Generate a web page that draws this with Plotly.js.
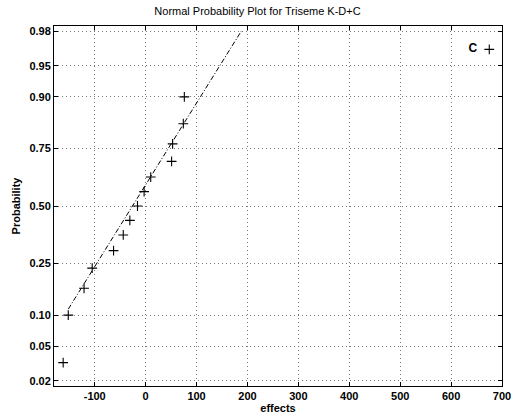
<!DOCTYPE html>
<html>
<head>
<meta charset="utf-8">
<script src="https://cdn.plot.ly/plotly-3.0.1.min.js"></script>
<style>html,body{margin:0;padding:0;background:#fff;}#chart{width:515px;height:416px;}</style>
</head>
<body>
<div id="chart"></div>
<script>
// Data
var effects = [-162, -152, -121, -105, -63, -44, -31, -16, -3, 10, 51, 53, 74, 76, 675];
var probabilities = [0.033, 0.10, 0.167, 0.233, 0.30, 0.367, 0.433, 0.50, 0.567, 0.633, 0.70, 0.767, 0.833, 0.90, 0.967];
var pointLabel = "C";
var fitX = [-152, 188];
var fitP = [0.113, 0.98];
var probTicks = [0.02, 0.05, 0.10, 0.25, 0.50, 0.75, 0.90, 0.95, 0.98];
var probTickText = ["0.02", "0.05", "0.10", "0.25", "0.50", "0.75", "0.90", "0.95", "0.98"];
var xTicks = [-100, 0, 100, 200, 300, 400, 500, 600, 700];

// inverse normal CDF (Acklam) -> normal probability scale
function norminv(p) {
  var a = [-3.969683028665376e+01, 2.209460984245205e+02, -2.759285104469687e+02, 1.383577518672690e+02, -3.066479806614716e+01, 2.506628277459239e+00];
  var b = [-5.447609879822406e+01, 1.615858368580409e+02, -1.556989798598866e+02, 6.680131188771972e+01, -1.328068155288572e+01];
  var c = [-7.784894002430293e-03, -3.223964580411365e-01, -2.400758277161838e+00, -2.549732539343734e+00, 4.374664141464968e+00, 2.938163982698783e+00];
  var d = [7.784695709041462e-03, 3.224671290700398e-01, 2.445134137142996e+00, 3.754408661907416e+00];
  var pl = 0.02425, q, r;
  if (p < pl) { q = Math.sqrt(-2 * Math.log(p));
    return (((((c[0]*q+c[1])*q+c[2])*q+c[3])*q+c[4])*q+c[5]) / ((((d[0]*q+d[1])*q+d[2])*q+d[3])*q+1); }
  if (p > 1 - pl) { q = Math.sqrt(-2 * Math.log(1 - p));
    return -(((((c[0]*q+c[1])*q+c[2])*q+c[3])*q+c[4])*q+c[5]) / ((((d[0]*q+d[1])*q+d[2])*q+d[3])*q+1); }
  q = p - 0.5; r = q * q;
  return (((((a[0]*r+a[1])*r+a[2])*r+a[3])*r+a[4])*r+a[5])*q / (((((b[0]*r+b[1])*r+b[2])*r+b[3])*r+b[4])*r+1);
}

var font = {family: "Liberation Sans, Arial, sans-serif", color: "#000"};

var ptsMain = {
  x: effects.slice(0, effects.length - 1),
  y: probabilities.slice(0, probabilities.length - 1).map(norminv),
  mode: "markers", type: "scatter",
  marker: {symbol: "cross-thin", size: 7, line: {color: "#000", width: 1.1}},
  hoverinfo: "skip"
};
var ptC = {
  x: [effects[effects.length - 1]],
  y: [norminv(probabilities[probabilities.length - 1])],
  mode: "markers+text", type: "scatter",
  text: [pointLabel + "\u00a0\u00a0"], textposition: "middle left",
  textfont: {family: font.family, size: 12, color: "#000", weight: "bold"},
  marker: {symbol: "cross-thin", size: 7, line: {color: "#000", width: 1.1}},
  hoverinfo: "skip"
};
var fit = {
  x: fitX, y: fitP.map(norminv),
  mode: "lines", type: "scatter",
  line: {color: "#000", width: 1, dash: "5px,2px,1px,2px"},
  hoverinfo: "skip"
};

var layout = {
  width: 515, height: 416,
  margin: {l: 54, r: 13, t: 26, b: 30},
  paper_bgcolor: "#fff", plot_bgcolor: "#fff",
  showlegend: false,
  title: {text: "Normal Probability Plot for Triseme K-D+C", x: 0.5, xanchor: "center", y: 0.982, yanchor: "top",
          font: {family: font.family, size: 11, color: "#000"}},
  xaxis: {
    range: [-180, 700], tickvals: xTicks, ticktext: xTicks.map(String),
    ticks: "inside", ticklen: 4, tickcolor: "#000",
    showline: true, linecolor: "#000", linewidth: 1, mirror: "ticks",
    showgrid: true, gridcolor: "#777", griddash: "1px,3px", gridwidth: 1,
    zeroline: false,
    tickfont: {family: font.family, size: 11, color: "#000", weight: "bold"},
    title: {text: "effects", font: {family: font.family, size: 11, color: "#000", weight: "bold"}, standoff: 2}
  },
  yaxis: {
    range: [-2.113, 2.113],
    tickvals: probTicks.map(norminv), ticktext: probTickText,
    ticks: "inside", ticklen: 4, tickcolor: "#000",
    showline: true, linecolor: "#000", linewidth: 1, mirror: "ticks",
    showgrid: true, gridcolor: "#777", griddash: "1px,3px", gridwidth: 1,
    zeroline: false,
    tickfont: {family: font.family, size: 11, color: "#000", weight: "bold"},
    title: {text: "Probability", font: {family: font.family, size: 11, color: "#000", weight: "bold"}, standoff: 6}
  }
};

Plotly.newPlot("chart", [fit, ptsMain, ptC], layout, {displayModeBar: false, staticPlot: true});
</script>
</body>
</html>
